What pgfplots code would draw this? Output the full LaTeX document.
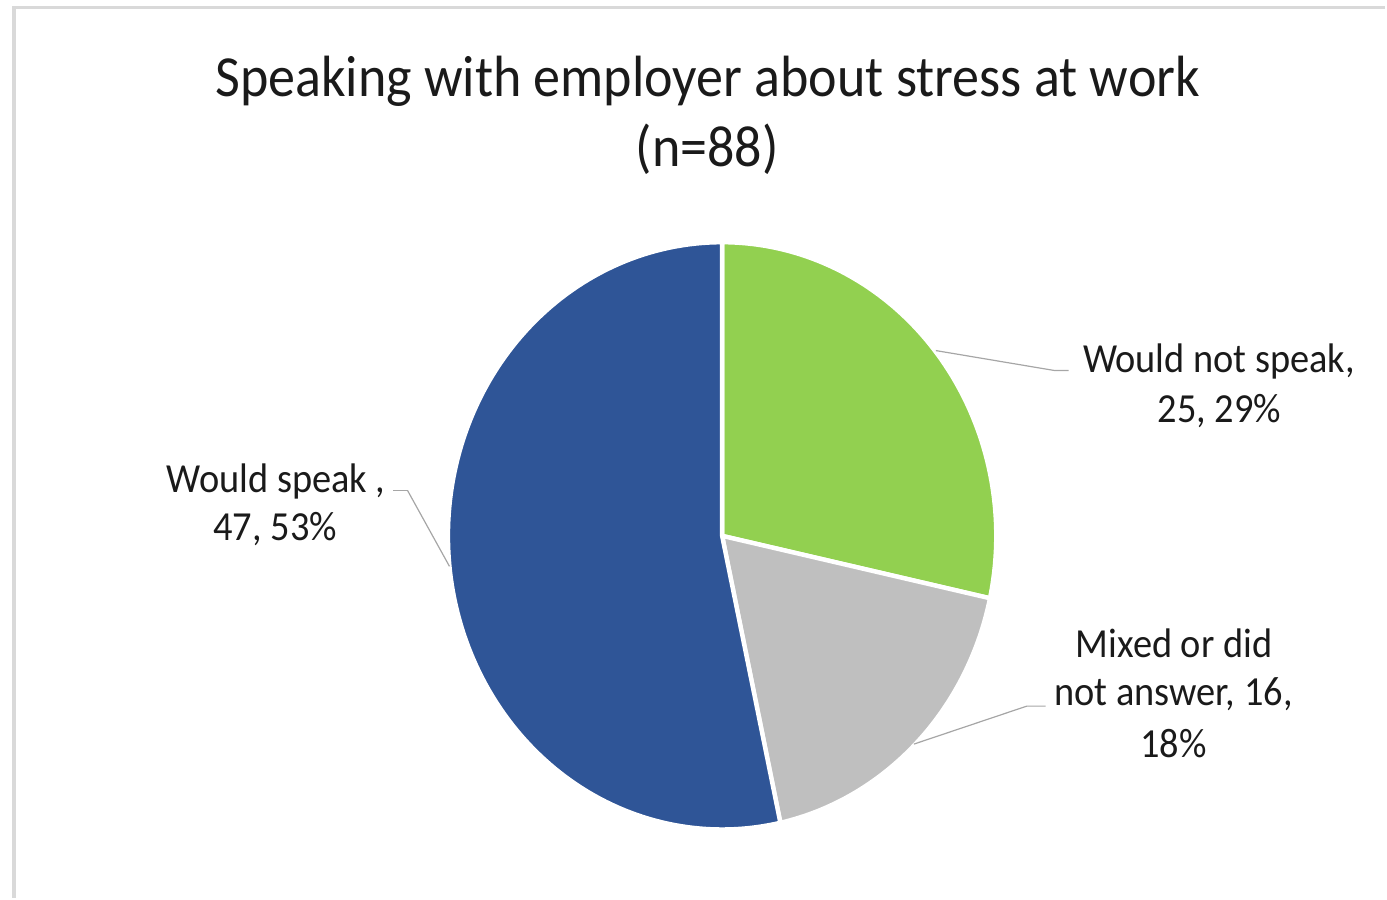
\documentclass[border=0pt]{standalone}
\usepackage{pgfplots}
\usepackage{pgfplotstable}
\usepackage{graphicx}
\usepackage{fontspec}
\setmainfont{Carlito}
\pgfplotsset{compat=1.18}
\definecolor{pieblue}{HTML}{2F5597}
\definecolor{piegreen}{HTML}{92D050}
\definecolor{piegray}{HTML}{BFBFBF}
\definecolor{framegray}{HTML}{D9D9D9}
\definecolor{leadergray}{HTML}{A6A6A6}
\definecolor{txt}{HTML}{1A1A1A}
\pgfplotstableread{
id value
notspeak 25
mixed 16
speak 47
}\piedata
\newcommand{\titlefont}{\fontsize{27.05}{35}\selectfont}
\newcommand{\labfont}{\fontsize{19.2}{25}\selectfont}
\newcommand{\st}[1]{\scalebox{1}[1.077]{#1}}
\begin{document}
\begin{tikzpicture}
\pgfplotstablegetelem{0}{value}\of\piedata \let\vA\pgfplotsretval
\pgfplotstablegetelem{1}{value}\of\piedata \let\vB\pgfplotsretval
\pgfplotstablegetelem{2}{value}\of\piedata \let\vC\pgfplotsretval
\pgfmathsetmacro\tot{\vA+\vB+\vC}
\pgfmathsetmacro\aA{90-360/\tot*\vA}
\pgfmathsetmacro\aB{\aA-360/\tot*\vB}
\pgfmathsetmacro\aC{\aB-360/\tot*\vC}
\def\cx{723}
\def\cy{536.5}
\def\rx{274.5}
\def\ry{294}
\begin{axis}[
  width=693.5pt, height=449.5pt, scale only axis,
  xmin=0, xmax=1387, ymin=0, ymax=899, y dir=reverse,
  hide axis, clip=false,
]
\path (axis cs:0,0) rectangle (axis cs:1387,899);
\draw[framegray, line width=1.7pt] (axis cs:14,899) -- (axis cs:14,7.5) -- (axis cs:1387,7.5);
% wedges
\addplot[fill=piegreen, draw=white, line width=2.2pt, domain=\aA:90, samples=80, line join=round]
  ({\cx+\rx*cos(x)}, {\cy-\ry*sin(x)}) -- (axis cs:\cx,\cy) -- cycle;
\addplot[fill=piegray, draw=white, line width=2.2pt, domain=\aB:\aA, samples=60, line join=round]
  ({\cx+\rx*cos(x)}, {\cy-\ry*sin(x)}) -- (axis cs:\cx,\cy) -- cycle;
\addplot[fill=pieblue, draw=white, line width=2.2pt, domain=\aC:\aB, samples=140, line join=round]
  ({\cx+\rx*cos(x)}, {\cy-\ry*sin(x)}) -- (axis cs:\cx,\cy) -- cycle;
% leader lines
\draw[leadergray, line width=0.6pt] (axis cs:937,351) -- (axis cs:1056,371) -- (axis cs:1070,371);
\draw[leadergray, line width=0.6pt] (axis cs:408,491) -- (axis cs:393,491);
\draw[leadergray, line width=0.6pt] (axis cs:408,491) -- (axis cs:450,567);
\draw[leadergray, line width=0.6pt] (axis cs:1047,707) -- (axis cs:1028,707) -- (axis cs:915,745);
% title
\node[anchor=base, inner sep=0, txt] at (axis cs:708.5,97) {\st{\titlefont Speaking with employer about stress at work}};
\node[anchor=base, inner sep=0, txt] at (axis cs:708,167) {\st{\titlefont (n=88)}};
% labels
\node[anchor=base, inner sep=0, txt] at (axis cs:1220.5,373) {\st{\labfont Would not speak,}};
\node[anchor=base, inner sep=0, txt] at (axis cs:1221,423) {\st{\labfont 25, 29\%}};
\node[anchor=base, inner sep=0, txt] at (axis cs:276.5,493) {\st{\labfont Would speak ,}};
\node[anchor=base, inner sep=0, txt] at (axis cs:275.5,541) {\st{\labfont 47, 53\%}};
\node[anchor=base, inner sep=0, txt] at (axis cs:1175.5,658) {\st{\labfont Mixed or did}};
\node[anchor=base, inner sep=0, txt] at (axis cs:1175,706) {\st{\labfont not answer, 16,}};
\node[anchor=base, inner sep=0, txt] at (axis cs:1175,758) {\st{\labfont 18\%}};
\end{axis}
\end{tikzpicture}
\end{document}
